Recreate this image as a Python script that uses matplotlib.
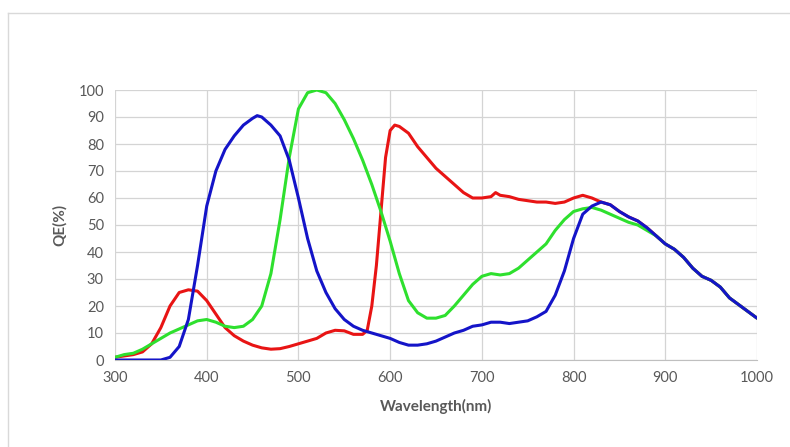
import matplotlib
matplotlib.use("Agg")
import matplotlib.pyplot as plt
from matplotlib.lines import Line2D

plt.rcParams['font.family'] = ['Lato', 'DejaVu Sans']

wl_red = [300, 310, 320, 330, 340, 350, 360, 370, 380, 390, 400, 410, 420, 430, 440, 450, 460, 470, 480, 490,
          500, 510, 520, 530, 540, 550, 560, 570, 575, 580, 585, 590, 595, 600, 605, 610, 620, 630, 640, 650,
          660, 670, 680, 690, 700, 710, 715, 720, 730, 740, 750, 760, 770, 780, 790, 800, 810, 820, 830,
          840, 850, 860, 870, 880, 890, 900, 910, 920, 930, 940, 950, 960, 970, 980, 990, 1000]
qe_red = [1, 1.5, 2, 3, 6, 12, 20, 25, 26, 25.5, 22, 17, 12, 9, 7, 5.5, 4.5, 4, 4.2, 5,
          6, 7, 8, 10, 11, 10.8, 9.5, 9.5, 11, 20, 35, 55, 75, 85, 87, 86.5, 84, 79, 75, 71,
          68, 65, 62, 60, 60, 60.5, 62, 61, 60.5, 59.5, 59, 58.5, 58.5, 58, 58.5, 60, 61, 60, 58.5,
          57.5, 55, 53, 51.5, 49, 46, 43, 41, 38, 34, 31, 29.5, 27, 23, 20.5, 18, 15.5]

wl_green = [300, 310, 320, 330, 340, 350, 360, 370, 380, 390, 400, 410, 420, 430, 440, 450, 460, 470, 480, 490,
            500, 510, 520, 530, 540, 550, 560, 570, 580, 590, 600, 610, 620, 630, 640, 650, 660, 670, 680, 690,
            700, 710, 720, 730, 740, 750, 760, 770, 780, 790, 800, 810, 820, 830, 840, 850, 860, 870, 880,
            890, 900, 910, 920, 930, 940, 950, 960, 970, 980, 990, 1000]
qe_green = [1, 2, 2.5, 4, 6, 8, 10, 11.5, 13, 14.5, 15, 14, 12.5, 12, 12.5, 15, 20, 32, 52, 75,
            93, 99, 100, 99, 95, 89, 82, 74, 65, 55, 44, 32, 22, 17.5, 15.5, 15.5, 16.5, 20, 24, 28,
            31, 32, 31.5, 32, 34, 37, 40, 43, 48, 52, 55, 56, 56.5, 55.5, 54, 52.5, 51, 50, 48,
            46, 43, 41, 38, 34, 31, 29.5, 27, 23, 20.5, 18, 15.5]

wl_blue = [300, 350, 360, 370, 380, 390, 400, 410, 420, 430, 440, 450, 455, 460, 470, 480, 490,
           500, 510, 520, 530, 540, 550, 560, 570, 580, 590, 600, 610, 620, 630, 640, 650, 660, 670, 680, 690,
           700, 710, 720, 730, 740, 750, 760, 770, 780, 790, 800, 810, 820, 830, 840, 850, 860, 870, 880,
           890, 900, 910, 920, 930, 940, 950, 960, 970, 980, 990, 1000]
qe_blue = [0, 0, 1, 5, 15, 35, 57, 70, 78, 83, 87, 89.5, 90.5, 90, 87, 83, 74,
           60, 45, 33, 25, 19, 15, 12.5, 11, 10, 9, 8, 6.5, 5.5, 5.5, 6, 7, 8.5, 10, 11, 12.5,
           13, 14, 14, 13.5, 14, 14.5, 16, 18, 24, 33, 45, 54, 57, 58.5, 57.5, 55, 53, 51.5, 49,
           46, 43, 41, 38, 34, 31, 29.5, 27, 23, 20.5, 18, 15.5]

x_ticks = [300, 400, 500, 600, 700, 800, 900, 1000]
y_ticks = [0, 10, 20, 30, 40, 50, 60, 70, 80, 90, 100]

fig = plt.figure(figsize=(7.9, 4.47), dpi=100)
ax = fig.add_axes([115/790, 1-360/447, (757-115)/790, (360-90)/447])

style = dict(lw=2.2, solid_joinstyle='round', solid_capstyle='round')
ax.plot(wl_red, qe_red, color='#e81414', zorder=3, **style)
ax.plot(wl_green, qe_green, color='#2ee02e', zorder=4, **style)
ax.plot(wl_blue, qe_blue, color='#1414c8', zorder=5, **style)

ax.set_xlim(300, 1000)
ax.set_ylim(0, 100)
ax.set_xticks(x_ticks)
ax.set_yticks(y_ticks)
ax.grid(True, color='#d4d4d4', lw=0.9, zorder=0)
ax.set_axisbelow(True)
for s in ['top', 'right', 'left']:
    ax.spines[s].set_visible(False)
ax.spines['bottom'].set_color('#bfbfbf')
ax.tick_params(length=0, labelsize=10.5, colors='#595959', pad=8)
ax.set_xlabel('Wavelength(nm)', fontsize=11, fontweight='bold', color='#595959', labelpad=10)
ax.set_ylabel('QE(%)', fontsize=11, fontweight='bold', color='#595959', labelpad=8)

# outer light border
fig.add_artist(Line2D([8/790, 8/790], [0, 1-13/447], transform=fig.transFigure, color='#d9d9d9', lw=1))
fig.add_artist(Line2D([8/790, 1], [1-13/447, 1-13/447], transform=fig.transFigure, color='#d9d9d9', lw=1))

fig.savefig('out.png', dpi=100)
